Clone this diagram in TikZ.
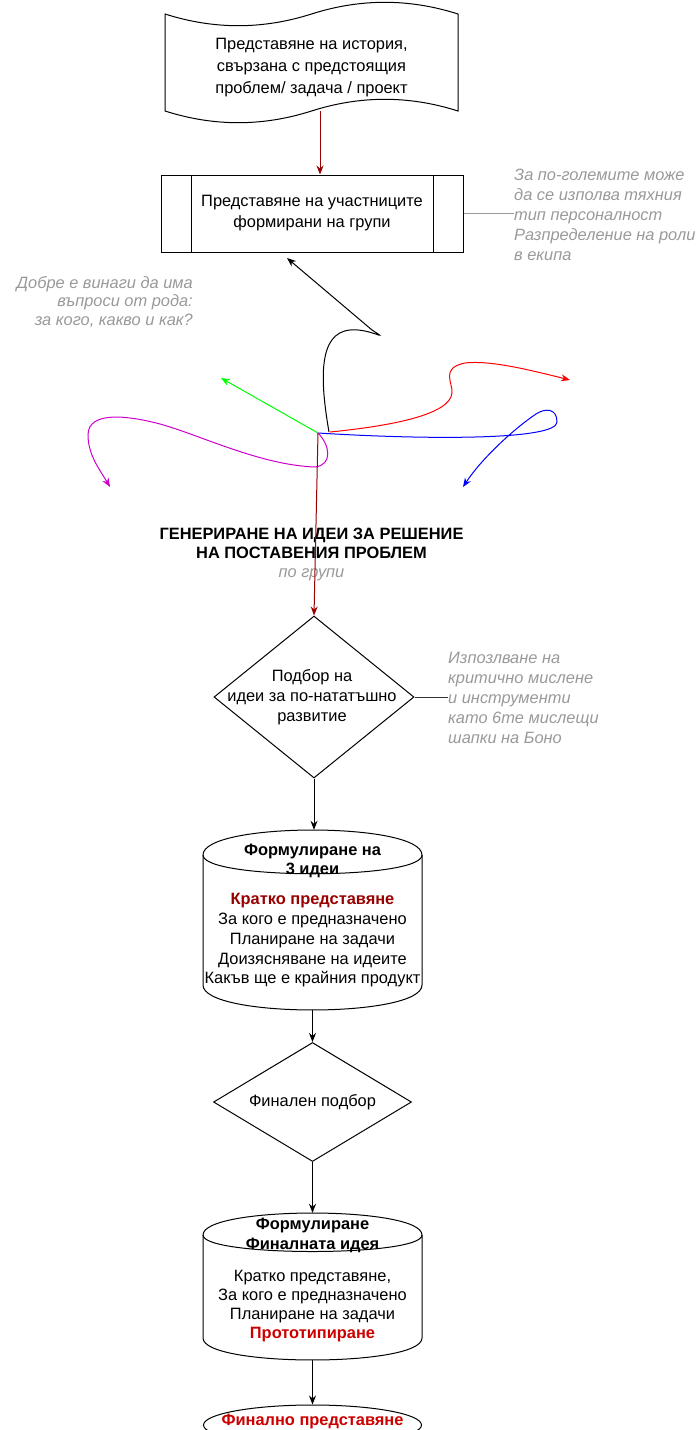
\documentclass[tikz,border=0pt]{standalone}
\usepackage{fontspec}
\setmainfont{Liberation Sans}
\usetikzlibrary{arrows.meta,shapes.geometric}
\definecolor{dred}{HTML}{990000}
\definecolor{notegray}{HTML}{999999}
\definecolor{txtred}{HTML}{CC0000}
\definecolor{cgreen}{HTML}{00FF00}
\definecolor{cred}{HTML}{FF0000}
\definecolor{cblue}{HTML}{0000FF}
\definecolor{cmag}{HTML}{CC00CC}
\begin{document}
\begin{tikzpicture}[x=1pt,y=-1pt,
  bx/.style={draw=black,line width=1pt},
  txt/.style={inner sep=0,align=center,text=black},
  note/.style={inner sep=0,text=notegray},
  arr/.style={line width=1pt,-{Stealth[length=9pt,width=7pt]}},
  dia/.style={diamond,draw=black,line width=1pt,inner sep=0},
]
\useasboundingbox (0,0) rectangle (699,1430);
\clip (0,0) rectangle (699,1430);

% document (tape) shape
\draw[bx] (165,14) .. controls (213.8,29.6) and (262.7,29.6) .. (311.5,14)
  .. controls (360.3,-1.6) and (409.2,-1.6) .. (458,14) -- (458,111)
  .. controls (409.2,95.4) and (360.3,95.4) .. (311.5,111)
  .. controls (262.7,126.6) and (213.8,126.6) .. (165,111) -- cycle;
\node[inner sep=0,minimum width=293,minimum height=97] (doc) at (311.5,62.5) {};
\node[txt,font=\fontsize{16.4}{22}\selectfont] (doctxt) at (311.5,68)
  {Представяне на история,\\свързана с предстоящия\\проблем/ задача / проект};
\coordinate (docout) at (320,111);

% process box
\node[bx,minimum width=302,minimum height=77,inner sep=0] (proc) at (312,213.5) {};
\draw[bx] ([xshift=31pt]proc.north west) -- ([xshift=31pt]proc.south west);
\draw[bx] ([xshift=-30pt]proc.north east) -- ([xshift=-30pt]proc.south east);
\node[txt,font=\fontsize{16.4}{21}\selectfont] (proctxt) at (312,213.5)
  {Представяне на участниците\\формирани на групи};
\draw[line width=1pt,draw=dred,-{Stealth[length=9pt,width=7pt]},color=dred] (docout) -- (proc.north -| docout);

% note right of process
\node[note,align=left,anchor=west,font=\fontsize{16.4}{20}\selectfont\itshape] (note1) at (514,215)
  {За по-големите може\\да се изполва тяхния\\тип персоналност\\Разпределение на роли\\в екипа};
\draw[line width=1pt,draw=notegray] (proc.east) -- (note1.west |- proc.east);

% note left
\node[note,align=right,anchor=east,font=\fontsize{16.4}{18.5}\selectfont\itshape] (note2) at (193,302)
  {Добре е винаги да има\\въпроси от рода:\\за кого, какво и как?};

% hub and curves
\coordinate (hub) at (318,433);
\coordinate (hubB) at (329,432);
\coordinate (hubR) at (330,432);
\coordinate (endK) at (287,258);
\coordinate (endG) at (221,378);
\coordinate (endR) at (570,380);
\coordinate (endB) at (463,487);
\coordinate (endM) at (110,487);

\draw[arr,draw=black] (hubB) .. controls (320,380) and (318,333) .. (350,330)
  .. controls (370,328) and (392,343) .. (372,330) -- (endK);
\draw[arr,draw=cgreen,color=cgreen] (hub) -- (endG);
\draw[arr,draw=cred,color=cred] (hubR) .. controls (390,426) and (450,415) .. (452,393)
  .. controls (453,383) and (440,368) .. (465,363)
  .. controls (490,360) and (530,370) .. (endR);
\draw[arr,draw=cblue,color=cblue] (hub) .. controls (430,440) and (557,440) .. (557,422)
  .. controls (557,408) and (545,408) .. (536,414)
  .. controls (515,428) and (482,458) .. (endB);
\draw[arr,draw=cmag,color=cmag] (hub) .. controls (330,445) and (333,465) .. (315,467)
  .. controls (260,465) and (200,435) .. (160,424)
  .. controls (130,416) and (88,410) .. (88,435)
  .. controls (88,455) and (100,470) .. (endM);

% title
\node[txt,font=\fontsize{16.4}{19.5}\selectfont\bfseries] (title) at (311.5,543.5)
  {ГЕНЕРИРАНЕ НА ИДЕИ ЗА РЕШЕНИЕ\\НА ПОСТАВЕНИЯ ПРОБЛЕМ};
\node[note,font=\fontsize{16.4}{19}\selectfont\itshape] (groups) at (311.5,575) {по групи};

% diamond 1
\node[dia,minimum width=200,minimum height=162] (d1) at (314,697) {};
\node[txt,font=\fontsize{16.4}{20}\selectfont] (d1txt) at (312,697)
  {Подбор на\\идеи за по-нататъшно\\развитие};
\draw[line width=1pt,draw=dred,color=dred,-{Stealth[length=9pt,width=7pt]}] (hub) -- (d1.north);
\node[note,align=left,anchor=west,font=\fontsize{16.4}{20}\selectfont\itshape] (note3) at (448,698)
  {Изпозлване на\\критично мислене\\и инструменти\\като 6те мислещи\\шапки на Боно};
\draw[line width=1pt,draw=black!80] (d1.east) -- (note3.west |- d1.east);

% cylinder 1
\draw[bx] (203,855) .. controls (203,821.7) and (422,821.7) .. (422,855) -- (422,985)
  .. controls (422,1018.3) and (203,1018.3) .. (203,985) -- cycle;
\draw[bx] (203,855) .. controls (203,880) and (422,880) .. (422,855);
\node[inner sep=0,minimum width=219,minimum height=180] (cyl1) at (312.5,920) {};
\node[txt,font=\fontsize{16.4}{19}\selectfont\bfseries] (c1title) at (312.5,861)
  {Формулиране на\\3 идеи};
\node[txt,font=\fontsize{16.4}{19.75}\selectfont] (c1body) at (312.5,940.5)
  {{\bfseries\color{dred}Кратко представяне}\\За кого е предназначено\\Планиране на задачи\\Доизясняване на идеите\\Какъв ще е крайния продукт};
\draw[arr] (d1.south) -- (cyl1.north -| d1.south);

% diamond 2
\node[dia,minimum width=198,minimum height=119] (d2) at (312.5,1102) {};
\node[txt,font=\fontsize{16.4}{20}\selectfont] (d2txt) at (312.5,1102) {Финален подбор};
\draw[arr] (cyl1.south) -- (d2.north);

% cylinder 2
\draw[bx] (203,1235) .. controls (203,1205.7) and (422,1205.7) .. (422,1235) -- (422,1338)
  .. controls (422,1367.3) and (203,1367.3) .. (203,1338) -- cycle;
\draw[bx] (203,1235) .. controls (203,1257) and (422,1257) .. (422,1235);
\node[inner sep=0,minimum width=219,minimum height=147] (cyl2) at (312.5,1286.5) {};
\node[txt,font=\fontsize{16.4}{20}\selectfont\bfseries] (c2title) at (312.5,1235)
  {Формулиране\\Финалната идея};
\node[txt,font=\fontsize{16.4}{18.7}\selectfont] (c2body) at (312.5,1306)
  {Кратко представяне,\\За кого е предназначено\\Планиране на задачи\\{\bfseries\color{txtred}Прототипиране}};
\draw[arr] (d2.south) -- (cyl2.north);

% final ellipse
\node[ellipse,draw=black,line width=1pt,minimum width=218,minimum height=40,inner sep=0] (fin) at (312.5,1425) {};
\node[txt,font=\fontsize{16.4}{20}\selectfont\bfseries,text=txtred,anchor=base] (fintxt) at (312.5,1425) {Финално представяне};
\draw[arr] (cyl2.south) -- (fin.north);
\end{tikzpicture}
\end{document}
